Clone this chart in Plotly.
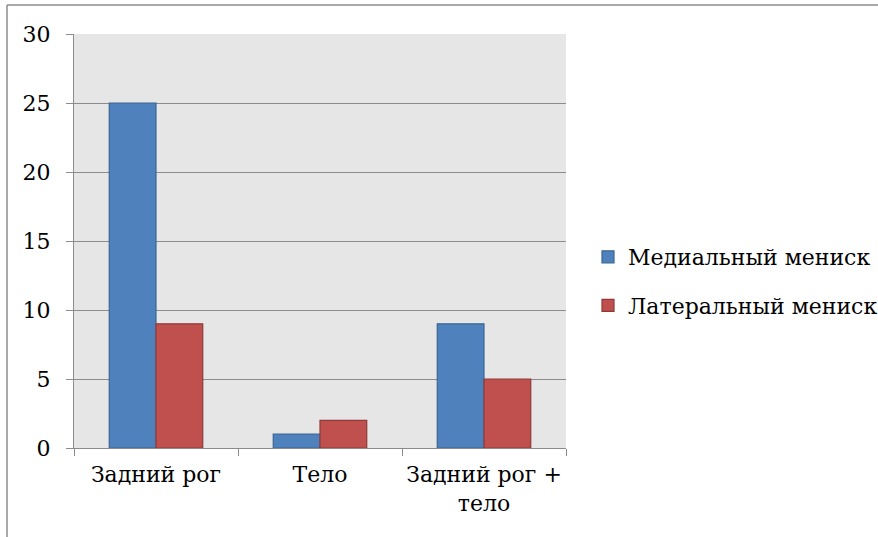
import plotly.graph_objects as go

categories = ["Задний рог", "Тело", "Задний рог +<br>тело"]
medial = [25, 1, 9]
lateral = [9, 2, 5]
series_names = ["Медиальный мениск", "Латеральный мениск"]

FONT = "DejaVu Serif"
FS = 22

fig = go.Figure()
fig.add_trace(go.Bar(
    x=categories, y=medial, name=series_names[0], legendgroup="a",
    marker=dict(color="#4f81bd", line=dict(color="#3a6795", width=1.2)),
))
fig.add_trace(go.Bar(
    x=categories, y=lateral, name=series_names[1], legendgroup="b",
    marker=dict(color="#c0504d", line=dict(color="#8f3a38", width=1.2)),
))

L, R, T, B = 74, 312, 34, 89
W, H = 878, 537
pw, ph = W - L - R, H - T - B

def px_x(px):
    return (px - L) / pw

def px_y(py):
    return (H - B - py) / ph

fig.update_layout(
    width=W, height=H,
    margin=dict(l=L, r=R, t=T, b=B, pad=0, autoexpand=False),
    paper_bgcolor="white",
    plot_bgcolor="#e6e6e6",
    font=dict(family=FONT, size=FS, color="black"),
    barmode="group",
    bargap=0.43,
    bargroupgap=0,
    showlegend=True,
    legend=dict(
        x=px_x(588), y=px_y(236), xanchor="left", yanchor="top",
        bgcolor="rgba(0,0,0,0)", font=dict(family=FONT, size=FS),
        tracegroupgap=17, itemwidth=30,
    ),
    shapes=[
        dict(type="line", xref="paper", yref="paper",
             x0=px_x(7), x1=px_x(878), y0=px_y(5), y1=px_y(5),
             line=dict(color="#8c8c8c", width=1.5)),
        dict(type="line", xref="paper", yref="paper",
             x0=px_x(7), x1=px_x(7), y0=px_y(5), y1=px_y(540),
             line=dict(color="#8c8c8c", width=1.5)),
    ],
)

fig.update_xaxes(
    type="category",
    tickson="boundaries",
    tickangle=0,
    ticks="outside", ticklen=7, tickcolor="#8c8c8c", tickwidth=1,
    showline=True, linecolor="#8c8c8c", linewidth=1,
    showgrid=False,
    tickfont=dict(family=FONT, size=FS),
    ticklabelstandoff=7,
)
fig.update_yaxes(
    range=[0, 30], dtick=5,
    ticks="outside", ticklen=7, tickcolor="#8c8c8c", tickwidth=1,
    showline=True, linecolor="#8c8c8c", linewidth=1,
    showgrid=True, gridcolor="#8c8c8c", gridwidth=1,
    zeroline=False,
    tickfont=dict(family=FONT, size=FS),
    ticklabelstandoff=11,
)

fig.write_html("out.html")
